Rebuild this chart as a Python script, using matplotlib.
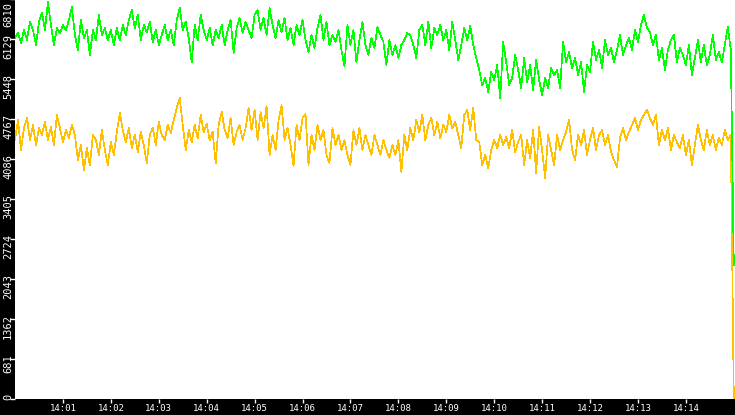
import matplotlib
matplotlib.use("Agg")
import matplotlib.pyplot as plt
import matplotlib.dates as mdates
import matplotlib.transforms as mtransforms
import pandas as pd

# waarden, een punt per 3.75 seconde (14:00 - 14:15)
green = [
    6146, 6231, 6061, 6282, 6112, 6418, 6282, 6027, 6418, 6572,
    6282, 6759, 6367, 6027, 6316, 6231, 6367, 6282, 6452, 6674,
    6197, 5942, 6452, 6146, 6282, 5857, 6282, 6112, 6538, 6197,
    6316, 6112, 6282, 6027, 6316, 6112, 6367, 6197, 6452, 6623,
    6316, 6538, 6112, 6367, 6248, 6418, 6078, 6282, 6027, 6197,
    6367, 6112, 6282, 6027, 6452, 6657, 6282, 6418, 6146, 5737,
    6367, 6112, 6538, 6282, 6112, 6316, 6027, 6282, 6146, 6367,
    6027, 6282, 6452, 5891, 6316, 6487, 6231, 6418, 6282, 6146,
    6538, 6623, 6282, 6487, 6197, 6657, 6367, 6146, 6452, 6248,
    6487, 6112, 6316, 6027, 6367, 6197, 6452, 6112, 5908, 6197,
    5976, 6316, 6538, 6112, 6418, 6027, 6197, 6078, 6282, 5942,
    5669, 6367, 6027, 6282, 5737, 6112, 6418, 6027, 5857, 6146,
    5976, 6333, 6197, 6078, 5686, 6112, 5857, 6027, 5806, 6027,
    6112, 6231, 6197, 6027, 5806, 6282, 6367, 6027, 6418, 5976,
    6316, 6197, 6367, 6112, 6282, 5942, 6418, 6112, 5772, 6027,
    6316, 6112, 6350, 6027, 5806, 5601, 5346, 5465, 5227, 5567,
    5431, 5686, 5125, 6078, 5737, 5346, 5465, 5857, 5601, 5295,
    5806, 5397, 5686, 5261, 5772, 5431, 5176, 5465, 5295, 5635,
    5516, 5601, 5295, 6078, 5737, 5908, 5635, 5806, 5516, 5737,
    5227, 5686, 5567, 6078, 5772, 5942, 5635, 6112, 5857, 5976,
    5737, 5942, 6197, 5857, 6027, 6146, 5942, 6282, 6078, 6367,
    6538, 6316, 6248, 6027, 6197, 5772, 5976, 5601, 5942, 6112,
    6197, 5737, 5976, 5857, 5686, 6027, 5516, 5806, 6112, 5737,
    6027, 5686, 5857, 6197, 5772, 5908, 5737, 6027, 6333, 5942,
    2281,
]

yellow = [
    4409, 4750, 4239, 4614, 4784, 4409, 4665, 4324, 4614, 4495,
    4716, 4409, 4631, 4324, 4835, 4614, 4375, 4580, 4444, 4665,
    4495, 4069, 4324, 3899, 4273, 3984, 4495, 4409, 4154, 4580,
    4239, 3984, 4375, 4154, 4546, 4869, 4580, 4375, 4614, 4273,
    4495, 4205, 4546, 4324, 4018, 4495, 4614, 4324, 4716, 4495,
    4409, 4665, 4529, 4750, 4954, 5125, 4665, 4239, 4580, 4375,
    4665, 4444, 4835, 4546, 4682, 4409, 4546, 4018, 4665, 4886,
    4580, 4444, 4784, 4324, 4546, 4665, 4409, 4614, 4954, 4580,
    4920, 4409, 4886, 4614, 4988, 4154, 4495, 4239, 4750, 5005,
    4409, 4614, 4324, 3967, 4665, 4409, 4784, 4852, 3984, 4495,
    4239, 4665, 4409, 4580, 4154, 4018, 4614, 4324, 4495, 4239,
    4409, 4154, 3984, 4580, 4324, 4614, 4239, 4495, 4324, 4154,
    4495, 4324, 4154, 4409, 4239, 4103, 4324, 4154, 4409, 3865,
    4495, 4239, 4614, 4409, 4750, 4546, 4835, 4409, 4665, 4784,
    4495, 4716, 4444, 4665, 4546, 4835, 4614, 4716, 4495, 4273,
    4835, 4920, 4580, 4954, 4409, 4375, 3984, 4154, 3933, 4239,
    4409, 4273, 4495, 4324, 4461, 4273, 4580, 4205, 4375, 4495,
    3984, 4409, 4103, 4580, 3848, 4631, 4239, 3763, 4495, 4239,
    3984, 4495, 4239, 4409, 4546, 4750, 4239, 4069, 4495, 4324,
    4580, 4154, 4409, 4614, 4239, 4495, 4580, 4324, 4495, 4205,
    4069, 3950, 4444, 4614, 4409, 4546, 4665, 4784, 4580, 4750,
    4835, 4920, 4784, 4665, 4835, 4324, 4580, 4409, 4614, 4239,
    4495, 4375, 4273, 4495, 4154, 4409, 3984, 4324, 4665, 4409,
    4239, 4580, 4324, 4495, 4239, 4444, 4324, 4580, 4409, 4495,
    0,
]

y_ticks = [0, 681, 1362, 2043, 2724, 3405, 4086, 4767, 5448, 6129, 6810]

times = pd.date_range("2024-01-01 14:00:00", periods=len(green), freq="3750ms")

plt.rcParams["font.family"] = "DejaVu Sans Mono"

fig = plt.figure(figsize=(7.35, 4.15), dpi=100, facecolor="black")
ax = fig.add_axes([15 / 735, 16 / 415, 720 / 735, 400 / 415])
ax.set_facecolor("white")

ax.plot(times, yellow, color="#ffc000", lw=0.5, antialiased=False)
ax.plot(times, green, color="#00ff00", lw=0.5, antialiased=False)

# een klein beetje ruimte rechts zodat de laatste val zichtbaar blijft
ax.set_xlim(times[0], times[-1] + pd.Timedelta(seconds=1.5))
ax.set_ylim(0, 6810)
ax.set_yticks(y_ticks)
ax.set_yticklabels([str(v) for v in y_ticks])

ax.xaxis.set_major_locator(mdates.MinuteLocator(byminute=range(1, 15)))
ax.xaxis.set_major_formatter(mdates.DateFormatter("%H:%M"))

for s in ax.spines.values():
    s.set_visible(False)

ax.tick_params(colors="white", width=1, direction="out")
ax.tick_params(axis="y", length=3.5, pad=0.7, labelsize=7.5, labelrotation=90)
ax.tick_params(axis="x", length=3, pad=0.5, labelsize=6.5)

# labels staan net boven het streepje en lopen naar beneden
labels = ax.get_yticklabels()
for i, lbl in enumerate(labels):
    lbl.set_va("top")
    lbl.set_ha("center")
    shift = 5 if i < len(labels) - 1 else -3
    lbl.set_transform(lbl.get_transform()
                      + mtransforms.ScaledTranslation(-1 / 100, shift / 100, fig.dpi_scale_trans))

fig.savefig("out.png", dpi=100, facecolor="black")
